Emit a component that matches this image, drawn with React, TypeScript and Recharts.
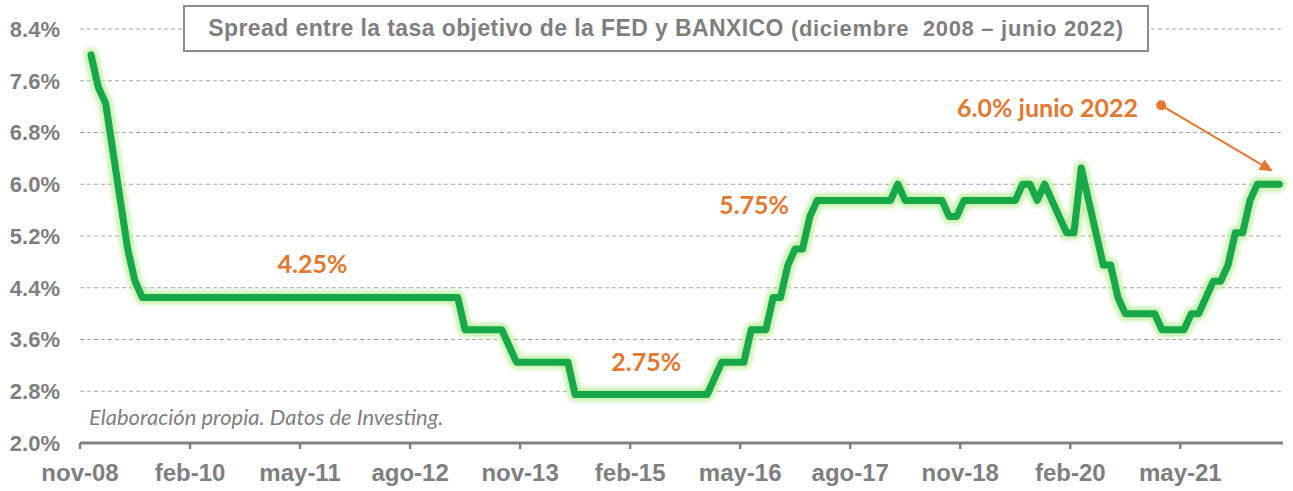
import React from 'react'
import {
    LineChart,
    Line,
    XAxis,
    YAxis,
    CartesianGrid,
    ReferenceDot,
    ReferenceLine,
} from 'recharts'

// eje x en meses contados desde nov-08; la serie arranca en dic-08
const firstMonth = 1

// spread tasa objetivo Banxico - FED (%), mensual dic-08 .. jun-22
const spread = [
    8.0, // 2008 dic
    7.5, 7.25, 6.5, 5.75, 5.0, 4.5, 4.25, 4.25, 4.25, 4.25, 4.25, 4.25, // 2009
    4.25, 4.25, 4.25, 4.25, 4.25, 4.25, 4.25, 4.25, 4.25, 4.25, 4.25, 4.25, // 2010
    4.25, 4.25, 4.25, 4.25, 4.25, 4.25, 4.25, 4.25, 4.25, 4.25, 4.25, 4.25, // 2011
    4.25, 4.25, 4.25, 4.25, 4.25, 4.25, 4.25, 4.25, 4.25, 4.25, 4.25, 4.25, // 2012
    4.25, 4.25, 3.75, 3.75, 3.75, 3.75, 3.75, 3.75, 3.5, 3.25, 3.25, 3.25, // 2013
    3.25, 3.25, 3.25, 3.25, 3.25, 2.75, 2.75, 2.75, 2.75, 2.75, 2.75, 2.75, // 2014
    2.75, 2.75, 2.75, 2.75, 2.75, 2.75, 2.75, 2.75, 2.75, 2.75, 2.75, 2.75, // 2015
    3.0, 3.25, 3.25, 3.25, 3.25, 3.75, 3.75, 3.75, 4.25, 4.25, 4.75, 5.0, // 2016
    5.0, 5.5, 5.75, 5.75, 5.75, 5.75, 5.75, 5.75, 5.75, 5.75, 5.75, 5.75, // 2017
    5.75, 6.0, 5.75, 5.75, 5.75, 5.75, 5.75, 5.75, 5.5, 5.5, 5.75, 5.75, // 2018
    5.75, 5.75, 5.75, 5.75, 5.75, 5.75, 6.0, 6.0, 5.75, 6.0, 5.75, 5.5, // 2019
    5.25, 5.25, 6.25, 5.75, 5.25, 4.75, 4.75, 4.25, 4.0, 4.0, 4.0, 4.0, // 2020
    4.0, 3.75, 3.75, 3.75, 3.75, 4.0, 4.0, 4.25, 4.5, 4.5, 4.75, 5.25, // 2021
    5.25, 5.75, 6.0, 6.0, 6.0, 6.0, // 2022 ene-jun
]

const xTicks = [0, 15, 30, 45, 60, 75, 90, 105, 120, 135, 150]
const xTickLabels = ['nov-08', 'feb-10', 'may-11', 'ago-12', 'nov-13', 'feb-15', 'may-16', 'ago-17', 'nov-18', 'feb-20', 'may-21']
const yTicks = [2.0, 2.8, 3.6, 4.4, 5.2, 6.0, 6.8, 7.6, 8.4]

const notes = [
    { t: 31.7, v: 4.78, text: '4.25%' },
    { t: 77.2, v: 3.27, text: '2.75%' },
    { t: 91.9, v: 5.7, text: '5.75%' },
    { t: 131.9, v: 7.19, text: '6.0% junio 2022' },
]

// punto a mitad de mes
const data = spread.map((v, i) => ({ t: firstMonth + i + 0.5, spread: v }))

const ORANGE = '#E4782F'
const GRAY = '#7f7f7f'

function Arrow(p: any) {
    const { x1, y1, x2, y2 } = p
    const a = Math.atan2(y2 - y1, x2 - x1)
    const len = 13, half = 6
    const bx = x2 - len * Math.cos(a)
    const by = y2 - len * Math.sin(a)
    const pts = [
        [x2, y2],
        [bx + half * Math.sin(a), by - half * Math.cos(a)],
        [bx - half * Math.sin(a), by + half * Math.cos(a)],
    ].map(q => q.join(',')).join(' ')
    return (
        <g>
            <line x1={x1} y1={y1} x2={bx} y2={by} stroke={ORANGE} strokeWidth={2} />
            <polygon points={pts} fill={ORANGE} />
        </g>
    )
}

export default function App() {
    return (
        <div style={{ position: 'absolute', left: 0, top: 0, width: 1293, height: 491, background: '#fff' }}>
            <style>{'.halo path { filter: blur(2px); }'}</style>
            <LineChart width={1293} height={491} data={data} margin={{ top: 29, right: 10, bottom: 0, left: 0 }}>
                <CartesianGrid horizontal vertical={false} strokeDasharray="4 3" stroke="#a6a6a6" />
                <XAxis
                    dataKey="t"
                    type="number"
                    domain={[0, 164]}
                    ticks={xTicks}
                    interval={0}
                    height={48}
                    tickFormatter={(v: number) => xTickLabels[xTicks.indexOf(v)]}
                    axisLine={{ stroke: '#808080', strokeWidth: 3 }}
                    tickLine={{ stroke: '#808080', strokeWidth: 2.5 }}
                    tickSize={6}
                    tickMargin={15}
                    tick={{ fill: GRAY, fontSize: 24, fontWeight: 700, fontFamily: 'Liberation Sans, Arial, sans-serif' }}
                />
                <YAxis
                    type="number"
                    domain={[2, 8.4]}
                    ticks={yTicks}
                    interval={0}
                    width={80}
                    axisLine={false}
                    tickLine={false}
                    tickMargin={14}
                    tickFormatter={(v: number) => v.toFixed(1) + '%'}
                    tick={{ fill: GRAY, fontSize: 22, fontWeight: 700, fontFamily: 'Liberation Sans, Arial, sans-serif' }}
                />
                {/* halo verde claro detras de la linea */}
                <Line
                    className="halo"
                    type="linear"
                    dataKey="spread"
                    stroke="#b9ec98"
                    strokeOpacity={0.8}
                    strokeWidth={14}
                    strokeLinejoin="round"
                    strokeLinecap="round"
                    dot={false}
                    activeDot={false}
                    isAnimationActive={false}
                />
                <Line
                    type="linear"
                    dataKey="spread"
                    stroke="#17a84a"
                    strokeWidth={7}
                    strokeLinejoin="round"
                    strokeLinecap="round"
                    dot={false}
                    activeDot={false}
                    isAnimationActive={false}
                />
                <ReferenceLine
                    segment={[{ x: 147.4, y: 7.22 }, { x: 162.6, y: 6.2 }]}
                    shape={Arrow}
                />
                <ReferenceDot x={147.4} y={7.22} r={5} fill={ORANGE} stroke="none" />
                {notes.map(n => (
                    <ReferenceDot
                        key={n.text}
                        x={n.t}
                        y={n.v}
                        r={1}
                        shape={(p: any) => (
                            <text
                                x={p.cx}
                                y={p.cy}
                                textAnchor="middle"
                                dominantBaseline="central"
                                fill={ORANGE}
                                fontSize={25}
                                fontWeight={700}
                                fontFamily="Lato, 'Open Sans', sans-serif"
                            >
                                {n.text}
                            </text>
                        )}
                    />
                ))}
            </LineChart>

            <div
                style={{
                    position: 'absolute', left: 183, top: 5, width: 966, height: 47,
                    boxSizing: 'border-box', border: '2px solid #8c8c8c', background: '#fff',
                    display: 'flex', alignItems: 'center', justifyContent: 'center',
                    fontFamily: 'Liberation Sans, Arial, sans-serif', fontWeight: 700, color: GRAY,
                    whiteSpace: 'nowrap',
                }}
            >
                <span style={{ fontSize: 23, letterSpacing: 0.4 }}>Spread entre la tasa objetivo de la FED y BANXICO</span>
                <span style={{ fontSize: 22, letterSpacing: 0.7, marginLeft: 7 }}>(diciembre&nbsp; 2008 – junio 2022)</span>
            </div>

            <div
                style={{
                    position: 'absolute', left: 89, top: 403,
                    fontFamily: "Lato, 'Open Sans', sans-serif", fontStyle: 'italic', fontSize: 22,
                    color: GRAY, whiteSpace: 'nowrap',
                }}
            >
                Elaboración propia. Datos de Investing.
            </div>
        </div>
    )
}
